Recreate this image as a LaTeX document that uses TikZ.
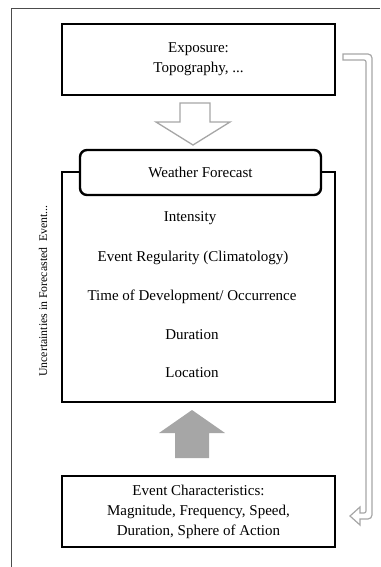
\documentclass[tikz,border=0pt]{standalone}
\usepackage{fontspec}
\setmainfont{Liberation Serif}
\begin{document}
\begin{tikzpicture}[x=1pt,y=-1pt,
  box/.style={draw=black, line width=1.6pt, minimum width=273pt, inner sep=0pt, align=center, font=\fontsize{15}{20}\selectfont},
  wfbox/.style={draw=black, line width=2.4pt, rounded corners=7pt, fill=white, minimum width=241pt, minimum height=45pt, inner sep=0pt, font=\fontsize{15}{20}\selectfont},
  item/.style={font=\fontsize{15}{17}\selectfont, inner sep=0pt},
  side/.style={font=\fontsize{11.8}{13}\selectfont, rotate=90, inner sep=0pt},
  hollow/.style={draw=black!35, line width=1.3pt, fill=white, line join=miter},
  solidarrow/.style={fill=black!35, draw=none}]
\useasboundingbox (0,0) rectangle (380,567);
% outer frame (partly visible)
\draw[black!70, line width=0.9pt] (11,567) -- (11,8) -- (380,8);
% boxes
\node[box, minimum height=71pt] (exp) at (198.5,59.5) {Exposure:\\Topography, ...};
\node[box, minimum height=230pt] (main) at (198.5,287) {};
\node[wfbox] (wf) at (200.5,172.5) {Weather Forecast};
\node[box, minimum height=71pt] (ev) at (198.5,511.5) {Event Characteristics:\\Magnitude, Frequency, Speed,\\Duration, Sphere of Action};
% items
\node[item] (i1) at (190,218) {Intensity};
\node[item] (i2) at (193,258) {Event Regularity (Climatology)};
\node[item] (i3) at (192,297) {Time of Development/ Occurrence};
\node[item] (i4) at (192,335) {Duration};
\node[item] (i5) at (192,373) {Location};
% side label
\node[side] (sl) at (43,291) {Uncertainties in Forecasted \ Event...};
% hollow down arrow
\draw[hollow] (180,103) -- (210,103) -- (210,122) -- (230,122) -- (193,145) -- (156,122) -- (180,122) -- cycle;
% filled up arrow
\fill[solidarrow] (175,458) -- (175,433) -- (159,433) -- (192,410) -- (225,433) -- (209,433) -- (209,458) -- cycle;
% right feedback arrow
\draw[draw=black!35, line width=1.2pt, fill=white, line join=miter]
  (343,54) -- (368,54) [rounded corners=4pt] -- (372,54) -- (372,519) [sharp corners] -- (360,519)
  -- (360,525) -- (350,516) -- (360,507) -- (360,513) [rounded corners=2pt] -- (366,513) -- (366,60) [sharp corners] -- (343,60) -- cycle;
\end{tikzpicture}
\end{document}
